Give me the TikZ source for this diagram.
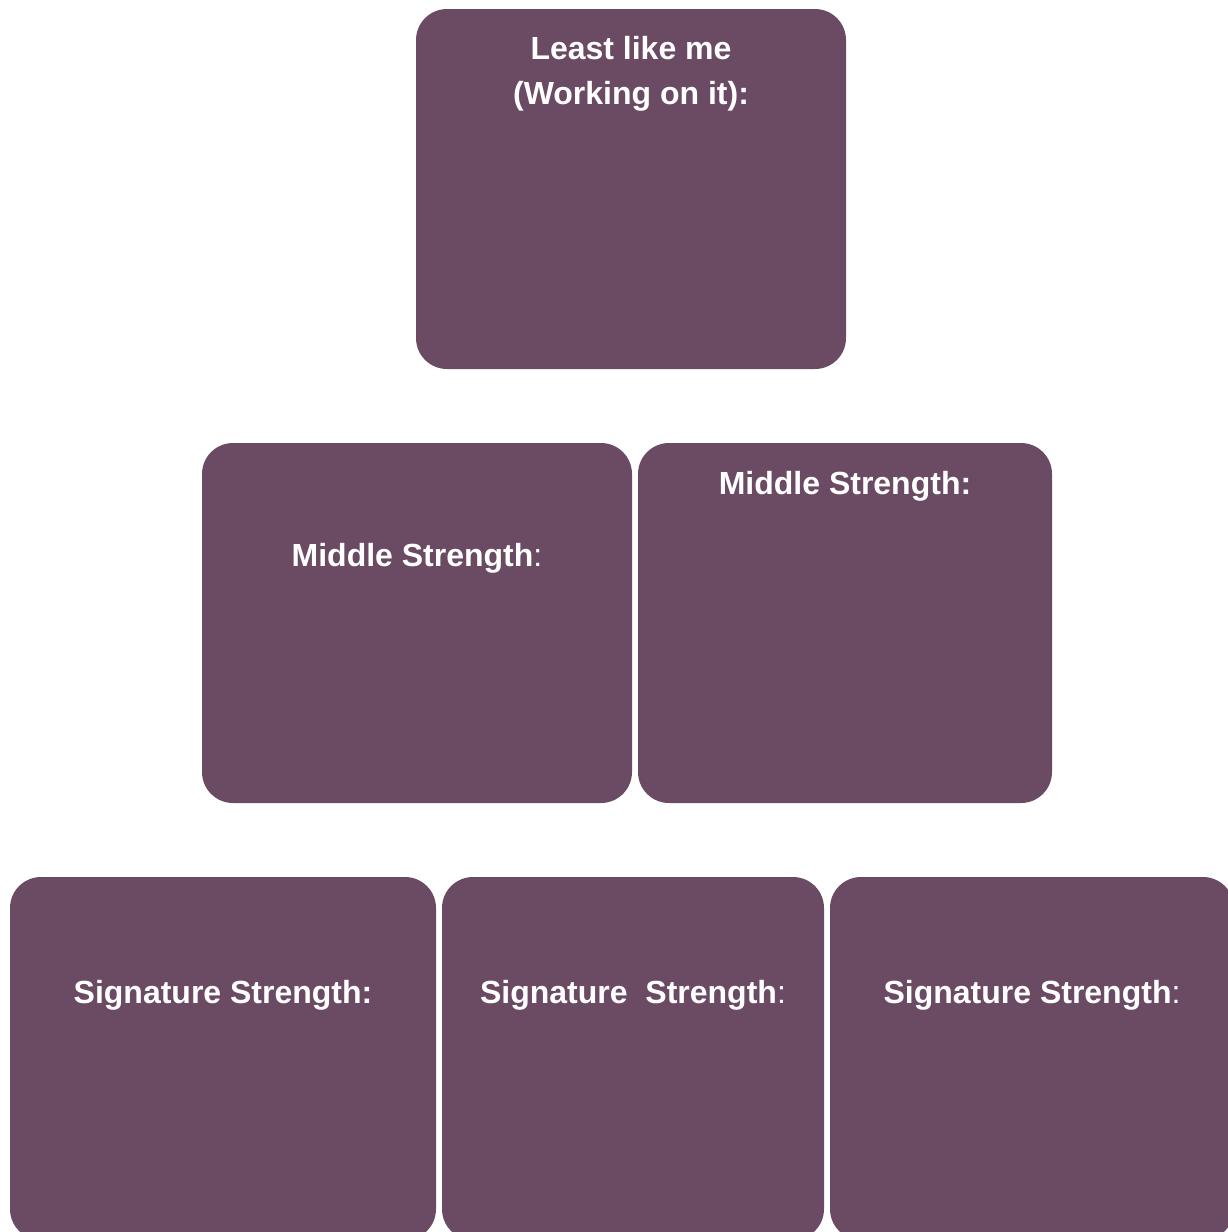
\documentclass[tikz,border=0pt]{standalone}
\usepackage{fontspec}
\setmainfont{Liberation Sans}
\definecolor{plum}{HTML}{6B4B63}
\tikzset{
  card/.style={fill=plum, draw=none, rounded corners=31pt},
  lbl/.style={text=white, anchor=base, inner sep=0pt, font=\fontsize{32}{45}\selectfont\bfseries, align=center}
}
\begin{document}
\begin{tikzpicture}[x=1pt,y=-1pt]
\useasboundingbox (0,0) rectangle (1228,1232);
\begin{scope}
\clip (0,0) rectangle (1228,1232);
% top
\path[card] (416,9) rectangle (846,369);
\coordinate (top) at (631,59);
% middle
\path[card] (202,443) rectangle (632,803);
\path[card] (638,443) rectangle (1052,803);
% bottom
\path[card] (10,877) rectangle (436,1240);
\path[card] (442,877) rectangle (824,1240);
\path[card] (830,877) rectangle (1234,1240);
\end{scope}
\node[lbl] (t1) at (631,59) {Least like me};
\node[lbl] (t2) at (631,104) {(Working on it):};
\node[lbl] (m1) at (417,566) {Middle Strength\textmd{:}};
\node[lbl] (m2) at (845,494) {Middle Strength:};
\node[lbl] (b1) at (223,1003) {Signature Strength:};
\node[lbl] (b2) at (633,1003) {Signature\ \ Strength\textmd{:}};
\node[lbl] (b3) at (1032,1003) {Signature Strength\textmd{:}};
\end{tikzpicture}
\end{document}
